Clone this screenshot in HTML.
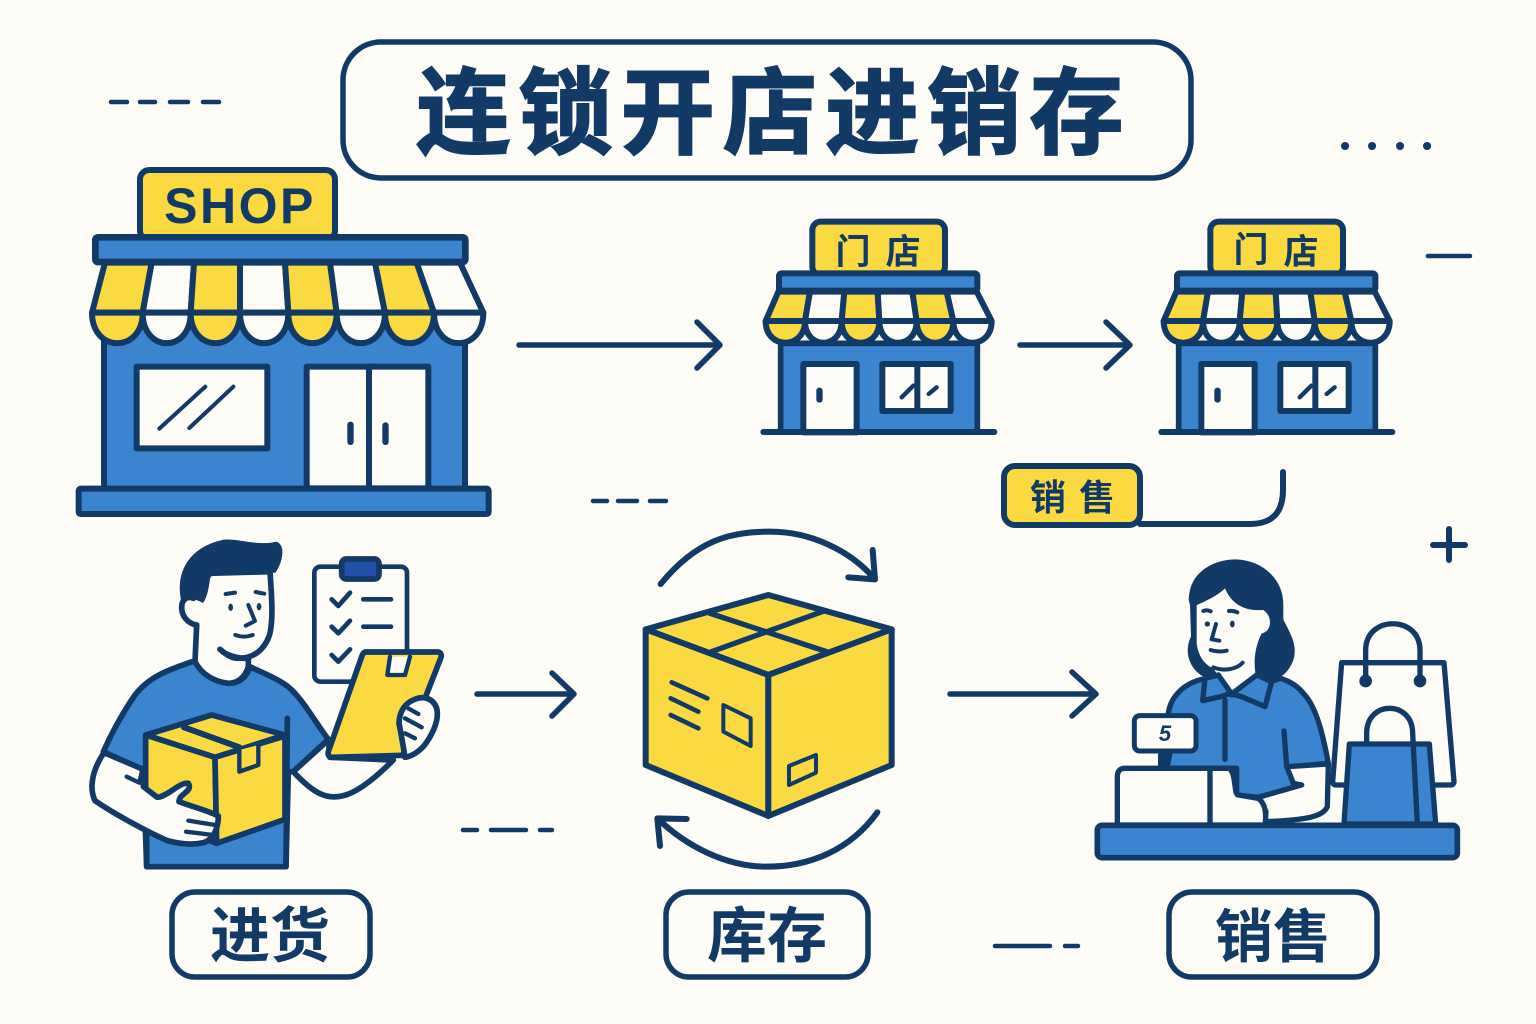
<!DOCTYPE html>
<html lang="zh"><head><meta charset="utf-8"><title>连锁开店进销存</title>
<style>html,body{margin:0;padding:0;background:#fefcf6}svg{display:block}
text{font-family:"Liberation Sans","Noto Sans CJK SC",sans-serif;font-weight:700;fill:#123a66}
.z{stroke-linejoin:round;stroke-linecap:round}</style></head><body>
<svg width="1536" height="1024" viewBox="0 0 1536 1024" xmlns="http://www.w3.org/2000/svg">
<defs>
<g id="small" class="z" stroke="#123a66" stroke-width="18">
<rect x="92" y="400" width="590" height="266" fill="#3b84cf" stroke-width="17"/>
<rect x="187" y="35" width="398" height="160" rx="25" fill="#fbd940"/>
<rect x="87" y="190" width="595" height="52" rx="8" fill="#3b84cf"/>
<path d="M85 245L180 245L165 333L47 333Z" fill="#fbd940"/><path d="M180 245L283 245L275 333L165 333Z" fill="#fefcf6"/>
<path d="M283 245L383 245L388 333L275 333Z" fill="#fbd940"/><path d="M383 245L487 245L500 333L388 333Z" fill="#fefcf6"/>
<path d="M487 245L590 245L610 333L500 333Z" fill="#fbd940"/><path d="M590 245L680 245L725 333L610 333Z" fill="#fefcf6"/>
<path d="M47 333C47 420 165 420 165 333Z" fill="#fbd940"/><path d="M165 333C165 420 275 420 275 333Z" fill="#fefcf6"/>
<path d="M275 333C275 420 388 420 388 333Z" fill="#fbd940"/><path d="M388 333C388 420 500 420 500 333Z" fill="#fefcf6"/>
<path d="M500 333C500 420 610 420 610 333Z" fill="#fbd940"/><path d="M610 333C610 420 725 420 725 333Z" fill="#fefcf6"/>
<rect x="160" y="462" width="160" height="205" fill="#fefcf6"/>
<rect x="199" y="533" width="19" height="45" rx="9" fill="#123a66" stroke="none"/>
<rect x="397" y="462" width="205" height="141" fill="#fefcf6"/><path d="M502 462V603" fill="none"/>
<path d="M455 562L490 527M536 552L560 532" fill="none" stroke-width="13"/>
<path d="M40 666H733" fill="none"/>
</g>
</defs>
<rect width="1536" height="1024" fill="#fefcf6"/>

<!-- title -->
<rect x="343" y="42" width="848" height="136" rx="38" fill="#fefcf6" stroke="#123a66" stroke-width="5.5"/>
<text x="774" y="146" text-anchor="middle" font-size="94" style="stroke:#123a66;stroke-width:2px;letter-spacing:8.2px">连锁开店进销存</text>

<!-- big shop -->
<g transform="translate(70 160) scale(.33333)" class="z" stroke="#123a66" stroke-width="18">
<rect x="102" y="500" width="1083" height="490" fill="#3b84cf"/>
<rect x="210" y="30" width="585" height="210" rx="28" fill="#fbd940"/>
<rect x="76" y="232" width="1110" height="74" rx="8" fill="#3b84cf" stroke-width="20"/>
<path d="M105 308L245 308L218 458L66 458Z" fill="#fbd940"/><path d="M245 308L372 308L362 458L218 458Z" fill="#fefcf6"/>
<path d="M372 308L510 308L510 458L362 458Z" fill="#fbd940"/><path d="M510 308L645 308L655 458L510 458Z" fill="#fefcf6"/>
<path d="M645 308L780 308L800 458L655 458Z" fill="#fbd940"/><path d="M780 308L915 308L945 458L800 458Z" fill="#fefcf6"/>
<path d="M915 308L1040 308L1092 458L945 458Z" fill="#fbd940"/><path d="M1040 308L1170 308L1240 458L1092 458Z" fill="#fefcf6"/>
<path d="M66 458C66 580 218 580 218 458Z" fill="#fbd940"/><path d="M218 458C218 580 362 580 362 458Z" fill="#fefcf6"/>
<path d="M362 458C362 580 510 580 510 458Z" fill="#fbd940"/><path d="M510 458C510 580 655 580 655 458Z" fill="#fefcf6"/>
<path d="M655 458C655 580 800 580 800 458Z" fill="#fbd940"/><path d="M800 458C800 580 945 580 945 458Z" fill="#fefcf6"/>
<path d="M945 458C945 580 1092 580 1092 458Z" fill="#fbd940"/><path d="M1092 458C1092 580 1240 580 1240 458Z" fill="#fefcf6"/>
<rect x="200" y="620" width="392" height="245" fill="#fefcf6"/>
<path d="M268 806L406 680M358 804L490 680" fill="none" stroke-width="12"/>
<rect x="710" y="620" width="365" height="365" fill="#fefcf6"/><path d="M897 620V985" fill="none"/>
<rect x="832" y="785" width="19" height="70" rx="9" fill="#123a66" stroke="none"/><rect x="937" y="787" width="19" height="68" rx="9" fill="#123a66" stroke="none"/>
<rect x="26" y="986" width="1230" height="76" rx="6" fill="#3b84cf"/>
</g>
<text x="240" y="223" text-anchor="middle" font-size="50" style="letter-spacing:2.5px;font-family:'Liberation Sans',sans-serif">SHOP</text>

<!-- small shops -->
<g transform="translate(750 210) scale(.33333)"><use href="#small"/></g>
<text x="853" y="264" text-anchor="middle" font-size="35">门</text><text x="903" y="264" text-anchor="middle" font-size="35">店</text>
<g transform="translate(1148 210) scale(.33333)"><use href="#small"/></g>
<text x="1251" y="262" text-anchor="middle" font-size="35">门</text><text x="1301" y="264" text-anchor="middle" font-size="35">店</text>

<!-- arrows -->
<g fill="none" stroke="#123a66" stroke-width="5.5" stroke-linecap="round" stroke-linejoin="round">
<path d="M519 345H720M697 322L720 345L697 368"/>
<path d="M1020 345H1130M1106 322L1130 345L1106 368"/>
<path d="M477 694H574M552 673L574 694L552 716"/>
<path d="M950 694H1096M1072 672L1096 694L1072 716"/>
<path d="M1140 524H1250Q1283 524 1283 490V472" stroke-width="6"/>
<!-- dashes -->
<path d="M111 102H127M140 102H155M170 102H188M203 102H219" stroke-width="4.5"/>
<path d="M593 501H607M618 501H637M650 501H666" stroke-width="4.5"/>
<path d="M463 830H477M491 830H526M540 830H552" stroke-width="4.5"/>
<path d="M995 946H1050M1065 946H1078" stroke-width="4.5"/>
<path d="M1428 256H1470" stroke-width="4.5"/>
<path d="M1433 545H1465M1449 529V560" stroke-width="6"/>
<path d="M1345 146h.1M1372 146h.1M1400 146h.1M1427 146h.1" stroke-width="8"/>
</g>

<!-- sales tag -->
<rect x="1004" y="466" width="136" height="59" rx="11" fill="#fbd940" stroke="#123a66" stroke-width="6"/>
<text x="1048" y="510" text-anchor="middle" font-size="36">销</text><text x="1097" y="510" text-anchor="middle" font-size="36">售</text>

<!-- person -->
<g transform="translate(80 530) scale(.33333)" class="z" stroke="#123a66" stroke-width="17">
<rect x="703" y="110" width="278" height="345" rx="18" fill="#fefcf6" stroke-width="14"/>
<rect x="785" y="87" width="112" height="60" rx="14" fill="#2451a8"/>
<path d="M755 208L775 228L810 188M755 290L775 310L810 272M755 375L775 395L810 358M850 208H933M850 290H933" fill="none" stroke-width="14"/>
<path d="M345 392C280 415 210 435 165 495C130 545 95 610 70 665L190 720L200 1010H618L625 725L640 725L745 628C700 570 660 490 610 460C580 440 540 425 510 410C500 440 480 460 445 460C405 455 365 435 345 392Z" fill="#3b84cf"/>
<path d="M345 395L350 285C320 280 305 255 305 232C305 205 325 198 340 205L390 130L570 125C575 200 580 260 570 310C555 360 520 385 475 385C455 385 440 375 420 358C440 380 480 385 505 385L505 410C495 445 470 460 445 460C405 455 365 435 345 395Z" fill="#fefcf6"/>
<path d="M305 205C292 130 325 55 430 32C480 28 530 52 590 38C612 50 607 90 585 125C540 130 500 120 460 125C425 125 395 130 388 135C385 170 378 200 368 215C345 205 330 195 305 205Z" fill="#123a66" stroke-width="6"/>
<path d="M437 192L465 188M527 186L553 191M505 225L525 273L497 287M466 315Q492 325 518 315" fill="none" stroke-width="12"/>
<ellipse cx="452" cy="232" rx="7" ry="11" fill="#123a66" stroke="none"/><ellipse cx="537" cy="230" rx="7" ry="11" fill="#123a66" stroke="none"/>
<path d="M640 725L745 630L750 682L940 690C900 730 840 785 790 797C740 810 700 790 640 725Z" fill="#fefcf6"/>
<path d="M855 366L1075 366C1085 368 1085 378 1082 385L968 676L755 682C745 680 742 672 746 662L845 380C848 372 850 368 855 366Z" fill="#fbd940"/>
<path d="M930 380L922 435L975 435L990 380" fill="#fefcf6" stroke-width="13"/>
<path d="M975 682C970 650 965 620 957 580C958 545 975 520 1000 510C1030 495 1060 505 1070 535C1080 575 1050 625 1030 650C1010 670 990 680 975 682Z" fill="#fefcf6"/>
<path d="M985 535L1015 552M975 565L1025 592M975 610L1005 625" fill="none" stroke-width="13"/>
<path d="M197 615L395 555L615 615L405 682Z" fill="#fbd940"/>
<path d="M197 615L405 682L410 940L197 850Z" fill="#fbd940"/>
<path d="M405 682L615 618L615 868L410 940Z" fill="#fbd940"/>
<path d="M312 592L478 652" fill="none" stroke-width="18"/>
<path d="M478 660L478 725L535 705L535 645" fill="#fbd940" stroke-width="13"/>
<path d="M622 565L618 1010M200 900L200 1010" fill="none"/>
<path d="M72 668C40 715 25 770 45 812C100 850 200 905 262 932C300 942 340 945 370 938C400 930 415 895 415 858C380 840 335 830 297 815C297 790 340 785 325 760C300 755 262 800 232 802L190 770L190 718Z" fill="#fefcf6"/>
<path d="M325 872L405 885M318 905L400 915M140 740L178 758L186 722" fill="none" stroke-width="13"/>
</g>

<!-- box -->
<g transform="translate(630 520) scale(.33333)" class="z" stroke="#123a66" stroke-width="18" fill="none">
<path d="M47 328L415 225L785 328L415 465Z" fill="#fbd940"/>
<path d="M47 328L415 465L415 888L47 735Z" fill="#fbd940"/>
<path d="M415 465L785 328L785 735L415 888Z" fill="#fbd940"/>
<path d="M240 280L590 395M585 272L245 395" stroke-width="16"/>
<path d="M125 487L232 535M122 535L205 575M122 585L205 625" stroke-width="14"/>
<path d="M280 555L362 595V678L280 635Z" stroke-width="12"/>
<path d="M477 738L558 705V758L477 795Z" stroke-width="12"/>
<path d="M92 192C200 60 300 35 420 35C540 35 660 90 735 178M728 90L735 178L655 172"/>
<path d="M742 877C660 990 540 1040 410 1040C290 1040 170 980 82 895M170 897L82 895L90 978"/>
</g>

<!-- cashier -->
<g transform="translate(1090 550) scale(.33333)" class="z" stroke="#123a66" stroke-width="16">
<path d="M755 338L1062 338L1092 695Q1092 705 1080 705H1000L770 705H740Q728 705 728 695Z" fill="#fefcf6"/>
<path d="M827 390V300C827 195 990 195 990 300V390" fill="none"/>
<circle cx="827" cy="393" r="11" fill="#123a66"/><circle cx="990" cy="393" r="11" fill="#123a66"/>
<path d="M778 582H1018L1037 822H762Z" fill="#3b84cf"/>
<path d="M830 580V550C830 450 968 450 968 550L982 822" fill="none"/>
<path d="M298 150C300 60 380 30 440 30C520 35 580 90 578 170V210C600 250 622 290 608 330C590 378 550 398 510 388C480 388 400 392 340 378C295 350 285 300 305 260L302 165Z" fill="#123a66" stroke-width="4"/>
<path d="M320 165C345 155 385 135 405 115C420 150 450 185 520 180C550 200 545 245 515 250C495 290 490 330 497 375L425 435L370 355C345 345 325 320 320 280Z" fill="#fefcf6" stroke="none"/>
<path d="M370 352C400 365 440 358 458 338M340 183Q350 178 362 184M417 183Q430 181 442 187M378 222L365 268L388 272M362 300Q385 308 410 302" fill="none" stroke-width="12"/>
<circle cx="352" cy="222" r="8" fill="#123a66" stroke="none"/><ellipse cx="427" cy="222" rx="7" ry="10" fill="#123a66" stroke="none"/>
<path d="M335 388C270 405 240 450 235 490L225 655L440 655L440 735L505 742L635 705L612 650L715 640C700 560 680 470 640 430C620 405 595 392 570 385L425 435Z" fill="#3b84cf"/>
<path d="M345 385L338 452L392 440L420 430L455 440L525 470L545 395L500 375L425 432L385 375Z" fill="#3b84cf"/>
<path d="M405 450V628M582 543L590 650" fill="none"/>
<path d="M590 650L715 642L712 770C700 800 650 810 525 815L528 785L505 742L635 705L610 700Z" fill="#fefcf6"/>
<path d="M212 605V650M240 605L232 650" fill="none"/>
<rect x="133" y="497" width="185" height="106" rx="16" fill="#fefcf6" stroke-width="15"/>
<path d="M82 825V680Q82 655 105 655H415C440 660 430 735 445 735L505 745C525 760 530 790 525 825Z" fill="#fefcf6"/>
<path d="M360 660V825" fill="none"/>
<rect x="22" y="826" width="1080" height="97" rx="14" fill="#3b84cf" stroke-width="17"/>
</g>
<text x="1165" y="741" text-anchor="middle" font-size="22" font-style="italic">5</text>

<!-- labels -->
<rect x="172" y="892" width="198" height="85" rx="23" fill="#fefcf6" stroke="#123a66" stroke-width="5.5"/>
<text x="270" y="957" text-anchor="middle" font-size="60">进货</text>
<rect x="666" y="892" width="202" height="85" rx="23" fill="#fefcf6" stroke="#123a66" stroke-width="5.5"/>
<text x="767" y="957" text-anchor="middle" font-size="60">库存</text>
<rect x="1169" y="892" width="208" height="85" rx="23" fill="#fefcf6" stroke="#123a66" stroke-width="5.5"/>
<text x="1273" y="957" text-anchor="middle" font-size="58">销售</text>
</svg></body></html>
